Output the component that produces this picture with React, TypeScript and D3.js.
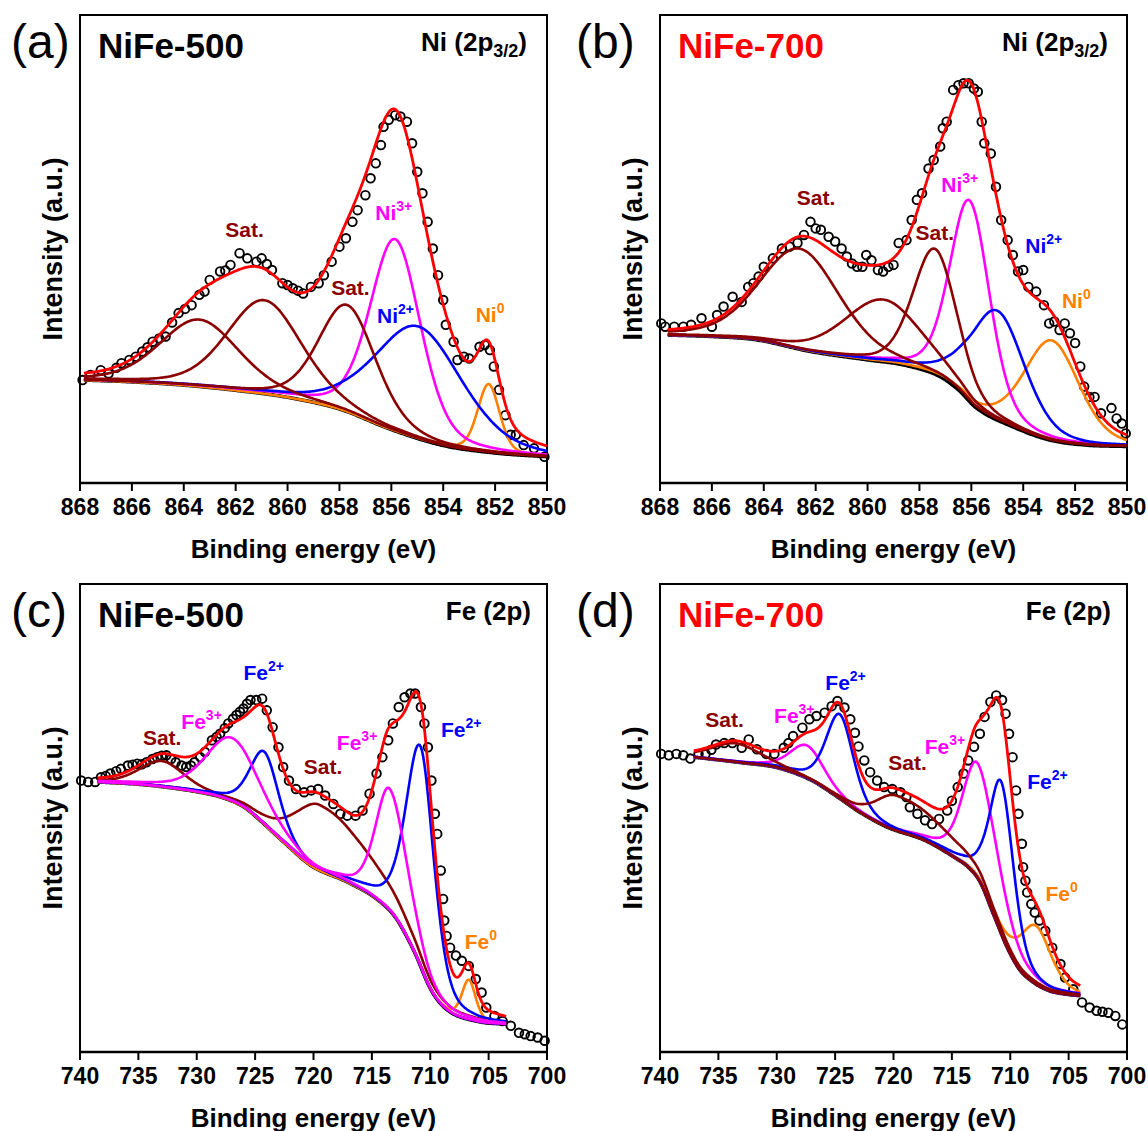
import React from "react";
import * as d3 from "d3";

type Pt = [number, number];
type Peak = { kind: string; c: number; h: number; w: number; wLow?: number };
type Lbl = { kind: string; base: string; sup: string; e: number; v: number };

// ---------- axis ticks ----------
const niTicks = [868, 866, 864, 862, 860, 858, 856, 854, 852, 850];
const feTicks = [740, 735, 730, 725, 720, 715, 710, 705, 700];

// ---------- (a) NiFe-500, Ni 2p3/2 ----------
const bgA: Pt[] = [[867.85, 22.0], [866, 21.6], [864, 20.9], [862, 19.8], [860, 18.3], [858, 15.8], [856, 11.4], [854, 8.0], [852, 6.4], [850, 5.6]];
const peaksA: Peak[] = [
  { kind: "ni0", c: 852.25, h: 14.6, w: 1.0 },
  { kind: "ni3", c: 855.85, h: 41, w: 2.3 },
  { kind: "ni2", c: 854.95, h: 24, w: 4.0 },
  { kind: "sat", c: 863.4, h: 14.3, w: 3.6 },
  { kind: "sat", c: 860.9, h: 20, w: 3.4 },
  { kind: "sat", c: 857.7, h: 22.8, w: 2.6 },
];
const dataA: Pt[] = [[867.9, 22.0], [867.6, 23.1], [867.2, 24.1], [866.9, 23.4], [866.6, 24.6], [866.4, 25.6], [866.1, 26.3], [865.85, 27.0], [865.6, 28.1], [865.4, 29.0], [865.2, 30.2], [864.95, 30.9], [864.7, 31.3], [864.45, 34.3], [864.2, 36.3], [863.95, 37.2], [863.7, 38.0], [863.4, 40.2], [863.2, 40.9], [863.0, 43.4], [862.6, 45.2], [862.4, 45.4], [862.2, 46.6], [861.85, 49.1], [861.55, 48.0], [861.2, 47.3], [861.0, 48.0], [860.8, 46.8], [860.6, 45.5], [860.2, 42.7], [860.0, 42.3], [859.8, 41.6], [859.6, 41.1], [859.4, 40.5], [859.1, 41.9], [858.8, 42.7], [858.6, 44.4], [858.3, 47.3], [858.0, 50.5], [857.75, 52.3], [857.5, 55.8], [857.3, 58.3], [857.0, 61.5], [856.8, 65.1], [856.6, 68.3], [856.4, 72.2], [856.3, 76.1], [856.1, 77.6], [855.85, 78.6], [855.65, 78.3], [855.4, 77.2], [855.2, 72.6], [855.0, 66.5], [854.8, 61.9], [854.6, 55.8], [854.4, 50.1], [854.2, 44.4], [854.0, 39.1], [853.9, 33.8], [853.6, 30.2], [853.45, 26.3], [853.2, 27.0], [853.0, 26.6], [852.6, 29.1], [852.4, 29.5], [852.2, 28.4], [852.05, 24.9], [851.85, 19.9], [851.6, 14.5], [851.4, 10.3], [851.2, 10.3], [850.9, 8.1], [850.5, 7.4], [850.1, 5.6]];
const labelsA: Lbl[] = [
  { kind: "sat", base: "Sat.", sup: "", e: 862.4, v: 52.6 },
  { kind: "sat", base: "Sat.", sup: "", e: 858.32, v: 40.2 },
  { kind: "ni3", base: "Ni", sup: "3+", e: 856.62, v: 56.2 },
  { kind: "ni2", base: "Ni", sup: "2+", e: 856.55, v: 34.1 },
  { kind: "ni0", base: "Ni", sup: "0", e: 852.75, v: 34.5 },
];

// ---------- (b) NiFe-700, Ni 2p3/2 ----------
const bgB: Pt[] = [[867.7, 31.6], [866, 31.3], [864.3, 30.6], [862.2, 28.1], [860, 26.3], [858.6, 25.2], [857.2, 22.7], [856.5, 19.9], [855.8, 16.0], [854.4, 12.0], [853, 9.2], [851.6, 8.1], [850, 7.8]];
const peaksB: Peak[] = [
  { kind: "ni0", c: 852.9, h: 21.4, w: 2.5 },
  { kind: "ni3", c: 856.05, h: 43, w: 1.8 },
  { kind: "ni2", c: 855.0, h: 23.4, w: 2.5 },
  { kind: "sat", c: 862.6, h: 21.5, w: 3.6 },
  { kind: "sat", c: 859.4, h: 13.3, w: 3.5 },
  { kind: "sat", c: 857.4, h: 26.8, w: 2.0 },
];
const dataB: Pt[] = [[867.95, 34.1], [867.8, 33.4], [867.45, 33.4], [867.1, 33.4], [866.8, 33.8], [866.4, 35.2], [866.0, 33.4], [865.8, 35.9], [865.55, 37.7], [865.2, 39.8], [864.85, 38.7], [864.6, 41.9], [864.4, 42.7], [864.2, 44.1], [864.0, 46.2], [863.65, 48.0], [863.3, 50.1], [863.0, 50.5], [862.7, 51.3], [862.45, 53.0], [862.2, 55.8], [862.0, 54.4], [861.8, 54.1], [861.5, 52.6], [861.25, 51.6], [861.0, 50.1], [860.8, 48.4], [860.6, 46.9], [860.4, 46.2], [860.2, 46.2], [860.05, 48.7], [859.85, 47.6], [859.6, 45.5], [859.4, 45.2], [859.2, 46.2], [859.0, 46.6], [858.8, 51.3], [858.5, 51.9], [858.3, 56.2], [858.1, 60.5], [857.9, 61.9], [857.65, 67.2], [857.45, 69.0], [857.2, 71.9], [857.1, 75.8], [856.95, 77.2], [856.7, 84.0], [856.5, 85.0], [856.3, 85.4], [856.1, 85.4], [855.9, 84.3], [855.75, 83.6], [855.6, 77.2], [855.5, 72.6], [855.25, 70.4], [855.05, 63.3], [854.85, 56.2], [854.6, 51.9], [854.4, 48.7], [854.2, 45.2], [854.0, 45.5], [853.8, 41.9], [853.5, 40.9], [853.2, 38.0], [853.0, 34.1], [852.8, 34.5], [852.6, 32.7], [852.4, 34.1], [852.2, 32.0], [852.0, 29.9], [851.8, 24.9], [851.65, 20.6], [851.45, 18.4], [851.25, 18.4], [851.0, 14.9], [850.6, 16.0], [850.4, 13.8], [850.2, 12.7], [850.05, 10.6]];
const labelsB: Lbl[] = [
  { kind: "sat", base: "Sat.", sup: "", e: 862.73, v: 59.4 },
  { kind: "sat", base: "Sat.", sup: "", e: 858.15, v: 51.9 },
  { kind: "ni3", base: "Ni", sup: "3+", e: 857.16, v: 62.2 },
  { kind: "ni2", base: "Ni", sup: "2+", e: 853.92, v: 49.1 },
  { kind: "ni0", base: "Ni", sup: "0", e: 852.51, v: 37.3 },
];

// ---------- (c) NiFe-500, Fe 2p ----------
const bgC: Pt[] = [[738.5, 57.7], [735, 57.2], [732.7, 56.6], [730, 55.6], [728, 54.5], [726, 52.4], [724.9, 50.2], [722.4, 44.5], [720.2, 39.8], [717.1, 36.3], [714.6, 32.7], [713.0, 28.8], [711.4, 21.6], [709.9, 13.1], [708.6, 9.1], [706.1, 6.6], [703.5, 5.9]];
const peaksC: Peak[] = [
  { kind: "sat", c: 733.0, h: 5.5, w: 4.5 },
  { kind: "sat", c: 719.5, h: 14, w: 5, wLow: 10 },
  { kind: "fe0", c: 706.7, h: 8.5, w: 1.4 },
  { kind: "fe2", c: 724.2, h: 15.5, w: 2.9 },
  { kind: "fe2", c: 710.8, h: 47, w: 3.0, wLow: 2.7 },
  { kind: "fe3", c: 727.0, h: 13.5, w: 5.2, wLow: 5.6 },
  { kind: "fe3", c: 713.5, h: 26, w: 2.8, wLow: 3.6 },
];
const dataC: Pt[] = [[739.9, 58.0], [739.3, 57.7], [738.7, 57.7], [738.2, 58.7], [737.8, 59.0], [737.4, 59.5], [736.9, 60.0], [736.5, 60.5], [735.9, 61.2], [735.5, 61.4], [735.1, 61.6], [734.7, 61.5], [734.3, 61.9], [733.8, 62.6], [733.4, 63.0], [733.0, 63.3], [732.6, 63.4], [732.2, 62.6], [731.8, 61.9], [731.3, 61.2], [730.9, 60.9], [730.5, 61.2], [730.2, 61.9], [729.7, 63.0], [729.3, 64.1], [728.7, 66.6], [728.3, 67.3], [728.0, 68.0], [727.6, 69.2], [727.3, 70.2], [726.9, 71.2], [726.6, 72.0], [726.3, 72.7], [726.0, 73.4], [725.7, 74.4], [725.4, 75.2], [724.9, 75.2], [724.4, 75.5], [724.0, 73.0], [723.5, 69.4], [723.0, 65.1], [722.6, 60.9], [722.1, 58.0], [721.5, 56.2], [720.8, 55.5], [720.2, 55.9], [719.6, 56.2], [719.0, 54.8], [718.3, 53.0], [717.7, 50.9], [717.1, 50.5], [716.4, 50.5], [715.8, 51.6], [715.2, 55.2], [714.6, 59.5], [714.1, 63.0], [713.6, 66.6], [713.2, 70.2], [712.7, 73.7], [712.2, 75.8], [711.7, 76.6], [711.3, 76.6], [710.8, 73.7], [710.5, 70.2], [710.2, 65.1], [709.9, 58.0], [709.6, 50.9], [709.4, 46.6], [709.1, 38.8], [708.9, 32.7], [708.8, 28.1], [708.6, 24.8], [708.3, 22.3], [707.8, 20.6], [707.3, 19.5], [706.7, 18.4], [706.1, 15.6], [705.6, 12.7], [705.2, 9.5], [704.5, 7.7], [703.8, 6.6], [703.1, 5.6], [702.4, 4.1], [701.9, 3.8], [701.4, 3.4], [700.8, 3.1], [700.2, 2.4]];
const labelsC: Lbl[] = [
  { kind: "sat", base: "Sat.", sup: "", e: 734.61, v: 65.5 },
  { kind: "fe3", base: "Fe", sup: "3+", e: 731.32, v: 69.1 },
  { kind: "fe2", base: "Fe", sup: "2+", e: 726.0, v: 79.4 },
  { kind: "sat", base: "Sat.", sup: "", e: 720.83, v: 59.5 },
  { kind: "fe3", base: "Fe", sup: "3+", e: 718.0, v: 64.5 },
  { kind: "fe2", base: "Fe", sup: "2+", e: 709.08, v: 67.3 },
  { kind: "fe0", base: "Fe", sup: "0", e: 707.05, v: 22.0 },
];

// ---------- (d) NiFe-700, Fe 2p ----------
const bgD: Pt[] = [[737.1, 63.0], [733, 61.8], [729.9, 60.7], [727, 58.0], [724.8, 54.5], [723, 51.4], [720.5, 48.0], [717.3, 45.2], [714.8, 41.6], [713.6, 39.5], [712.6, 36.4], [711.4, 29.2], [710.2, 22.0], [709.2, 17.6], [708.2, 15.2], [706.7, 13.1], [705.4, 12.4], [704.0, 12.0]];
const peaksD: Peak[] = [
  { kind: "fe0", c: 707.8, h: 12.5, w: 3.2 },
  { kind: "fe3", c: 727.4, h: 7, w: 3.4 },
  { kind: "fe3", c: 712.8, h: 24.5, w: 3.0, wLow: 4.2 },
  { kind: "fe2", c: 724.6, h: 18, w: 2.8 },
  { kind: "fe2", c: 710.75, h: 32.5, w: 2.4, wLow: 2.5 },
  { kind: "sat", c: 733.5, h: 4, w: 5 },
  { kind: "sat", c: 719.8, h: 7.5, w: 4, wLow: 10 },
];
const dataD: Pt[] = [[739.9, 63.7], [739.25, 63.4], [738.6, 63.7], [738.0, 63.4], [737.4, 62.7], [736.7, 63.7], [736.1, 63.7], [735.6, 64.6], [735.2, 65.7], [734.5, 66.0], [733.8, 66.0], [733.0, 65.0], [732.4, 66.8], [731.7, 64.7], [730.9, 63.7], [730.2, 63.7], [729.4, 65.0], [729.0, 66.0], [728.6, 67.5], [727.8, 69.3], [727.2, 71.1], [726.6, 71.8], [725.9, 72.5], [725.3, 73.9], [724.8, 75.0], [724.2, 73.6], [723.7, 71.1], [723.3, 68.2], [723.0, 65.3], [722.5, 62.3], [722.0, 59.8], [721.4, 58.0], [720.8, 56.6], [720.1, 56.2], [719.4, 55.5], [718.9, 54.5], [718.6, 52.3], [717.95, 50.9], [717.3, 49.5], [716.7, 48.7], [716.1, 49.8], [715.4, 51.6], [715.0, 53.7], [714.5, 56.6], [714.0, 59.5], [713.6, 62.3], [713.1, 65.2], [712.6, 68.0], [712.2, 71.6], [711.7, 74.8], [711.2, 76.2], [710.7, 75.2], [710.4, 72.3], [710.1, 68.0], [709.8, 63.0], [709.5, 55.9], [709.3, 50.9], [709.0, 44.5], [708.9, 39.5], [708.7, 36.6], [708.55, 34.1], [708.2, 31.6], [707.9, 29.8], [707.5, 28.1], [707.0, 25.9], [706.4, 22.3], [705.7, 18.8], [705.3, 15.9], [704.6, 13.4], [703.85, 10.6], [703.2, 9.5], [702.6, 8.8], [702.1, 8.6], [701.6, 8.4], [701.0, 7.7], [700.4, 5.9]];
const labelsD: Lbl[] = [
  { kind: "sat", base: "Sat.", sup: "", e: 736.12, v: 69.4 },
  { kind: "fe3", base: "Fe", sup: "3+", e: 730.23, v: 70.2 },
  { kind: "fe2", base: "Fe", sup: "2+", e: 725.84, v: 77.3 },
  { kind: "sat", base: "Sat.", sup: "", e: 720.45, v: 60.2 },
  { kind: "fe3", base: "Fe", sup: "3+", e: 717.32, v: 63.7 },
  { kind: "fe2", base: "Fe", sup: "2+", e: 708.55, v: 56.3 },
  { kind: "fe0", base: "Fe", sup: "0", e: 706.99, v: 32.3 },
];

// ---------- styling ----------
const COLORS: Record<string, string> = {
  sat: "#8B0000",
  ni3: "#FF00FF",
  fe3: "#FF00FF",
  ni2: "#0000FF",
  fe2: "#0000FF",
  ni0: "#FF8000",
  fe0: "#FF8000",
};
const FONT = "'Liberation Sans', Arial, Helvetica, sans-serif";
const PW = 467;
const PH = 468;

function makeInterp(pts: Pt[]) {
  const s = [...pts].sort((a, b) => a[0] - b[0]);
  const n = s.length;
  const xs = s.map((p) => p[0]);
  const ys = s.map((p) => p[1]);
  const d: number[] = [];
  for (let i = 0; i < n - 1; i++) d[i] = (ys[i + 1] - ys[i]) / (xs[i + 1] - xs[i]);
  const m: number[] = new Array(n);
  m[0] = d[0];
  m[n - 1] = d[n - 2];
  for (let i = 1; i < n - 1; i++) m[i] = d[i - 1] * d[i] <= 0 ? 0 : (d[i - 1] + d[i]) / 2;
  for (let i = 0; i < n - 1; i++) {
    if (d[i] === 0) {
      m[i] = 0;
      m[i + 1] = 0;
    } else {
      const a = m[i] / d[i];
      const b = m[i + 1] / d[i];
      const s2 = a * a + b * b;
      if (s2 > 9) {
        const t = 3 / Math.sqrt(s2);
        m[i] = t * a * d[i];
        m[i + 1] = t * b * d[i];
      }
    }
  }
  return (x: number) => {
    let i = 0;
    if (x <= xs[0]) i = 0;
    else if (x >= xs[n - 1]) i = n - 2;
    else while (i < n - 2 && x > xs[i + 1]) i++;
    const h = xs[i + 1] - xs[i];
    const t = Math.max(0, Math.min(1, (x - xs[i]) / h));
    const t2 = t * t;
    const t3 = t2 * t;
    return (2 * t3 - 3 * t2 + 1) * ys[i] + (t3 - 2 * t2 + t) * h * m[i] + (-2 * t3 + 3 * t2) * ys[i + 1] + (t3 - t2) * h * m[i + 1];
  };
}

function pv(x: number, p: Peak, eta: number) {
  const w = x < p.c && p.wLow ? p.wLow : p.w;
  const t = (x - p.c) / w;
  const g = Math.exp(-4 * Math.LN2 * t * t);
  const l = 1 / (1 + 4 * t * t);
  return p.h * ((1 - eta) * g + eta * l);
}

type PanelCfg = {
  left: number;
  top: number;
  tagX: number;
  tag: string;
  sample: string;
  sampleColor: string;
  region: string;
  regionSub: string;
  regionRight: number;
  domain: [number, number];
  ticks: number[];
  bg: Pt[];
  peaks: Peak[];
  data: Pt[];
  labels: Lbl[];
  eta: number;
  step: number;
};

function Panel({ cfg }: { cfg: PanelCfg }) {
  const { left, top, domain, ticks, bg, peaks, data, labels, eta, step } = cfg;
  const x = d3.scaleLinear().domain(domain).range([left, left + PW]);
  const y = d3.scaleLinear().domain([0, 100]).range([top + PH, top]);
  const bgf = makeInterp(bg);
  const lo = d3.min(bg, (d) => d[0]) as number;
  const hi = d3.max(bg, (d) => d[0]) as number;
  const xs: number[] = [];
  for (let v = lo; v <= hi + 1e-9; v += step) xs.push(v);
  if (xs[xs.length - 1] < hi) xs.push(hi);
  const line = d3
    .line<Pt>()
    .x((d) => x(d[0]))
    .y((d) => y(d[1]));
  const bgPts: Pt[] = xs.map((v) => [v, bgf(v)]);
  const compPaths = peaks.map((p) => ({
    kind: p.kind,
    d: line(xs.map((v) => [v, bgf(v) + pv(v, p, eta)] as Pt)) || "",
  }));
  const env = line(xs.map((v) => [v, bgf(v) + d3.sum(peaks, (p) => pv(v, p, eta))] as Pt)) || "";
  const bottom = top + PH;
  return (
    <g>
      <rect x={left} y={top} width={PW} height={PH} fill="none" stroke="#000" strokeWidth={2} />
      {ticks.map((t) => (
        <g key={t}>
          <line x1={x(t)} x2={x(t)} y1={bottom} y2={bottom + 8} stroke="#000" strokeWidth={2} />
          <text x={x(t)} y={bottom + 32} textAnchor="middle" fontFamily={FONT} fontWeight="bold" fontSize={23}>
            {t}
          </text>
        </g>
      ))}
      <line x1={left} x2={left + PW} y1={bottom} y2={bottom} stroke="#000" strokeWidth={2.5} />
      <text x={left + PW / 2} y={bottom + 75} textAnchor="middle" fontFamily={FONT} fontWeight="bold" fontSize={26}>
        Binding energy (eV)
      </text>
      <text
        transform={`translate(${left - 18},${top + PH / 2}) rotate(-90)`}
        textAnchor="middle"
        fontFamily={FONT}
        fontWeight="bold"
        fontSize={27}
      >
        Intensity (a.u.)
      </text>
      <text x={cfg.tagX} y={top + 43} fontFamily={FONT} fontSize={48}>
        {cfg.tag}
      </text>
      <text x={left + 18} y={top + 43} fontFamily={FONT} fontWeight="bold" fontSize={35} fill={cfg.sampleColor}>
        {cfg.sample}
      </text>
      <text x={left + PW - cfg.regionRight} y={top + 36} textAnchor="end" fontFamily={FONT} fontWeight="bold" fontSize={26}>
        {cfg.region}
        {cfg.regionSub ? (
          <>
            <tspan dy={6} fontSize={18}>
              {cfg.regionSub}
            </tspan>
            <tspan dy={-6} fontSize={26}>
              )
            </tspan>
          </>
        ) : null}
      </text>
      {data.map((d, i) => (
        <circle key={i} cx={x(d[0])} cy={y(d[1])} r={4.3} fill="none" stroke="#000" strokeWidth={1.9} />
      ))}
      <path d={line(bgPts) || ""} fill="none" stroke="#000" strokeWidth={3.5} />
      {compPaths.map((c, i) => (
        <path key={i} d={c.d} fill="none" stroke={COLORS[c.kind]} strokeWidth={2.6} strokeLinejoin="round" />
      ))}
      <path d={env} fill="none" stroke="#FF0000" strokeWidth={2.8} strokeLinejoin="round" />
      {labels.map((l, i) => (
        <text key={i} x={x(l.e)} y={y(l.v)} fontFamily={FONT} fontWeight="bold" fontSize={21} fill={COLORS[l.kind]}>
          {l.base}
          {l.sup ? (
            <tspan dy={-9} fontSize={14}>
              {l.sup}
            </tspan>
          ) : null}
        </text>
      ))}
    </g>
  );
}

const panels: PanelCfg[] = [
  { left: 80, top: 15, tagX: 11, tag: "(a)", sample: "NiFe-500", sampleColor: "#000", region: "Ni (2p", regionSub: "3/2", regionRight: 20, domain: [868, 850], ticks: niTicks, bg: bgA, peaks: peaksA, data: dataA, labels: labelsA, eta: 0.3, step: 0.05 },
  { left: 660, top: 15, tagX: 576, tag: "(b)", sample: "NiFe-700", sampleColor: "#FF0000", region: "Ni (2p", regionSub: "3/2", regionRight: 19, domain: [868, 850], ticks: niTicks, bg: bgB, peaks: peaksB, data: dataB, labels: labelsB, eta: 0.3, step: 0.05 },
  { left: 80, top: 584, tagX: 11, tag: "(c)", sample: "NiFe-500", sampleColor: "#000", region: "Fe (2p)", regionSub: "", regionRight: 16, domain: [740, 700], ticks: feTicks, bg: bgC, peaks: peaksC, data: dataC, labels: labelsC, eta: 0.4, step: 0.1 },
  { left: 660, top: 584, tagX: 576, tag: "(d)", sample: "NiFe-700", sampleColor: "#FF0000", region: "Fe (2p)", regionSub: "", regionRight: 16, domain: [740, 700], ticks: feTicks, bg: bgD, peaks: peaksD, data: dataD, labels: labelsD, eta: 0.4, step: 0.1 },
];

export default function App() {
  return (
    <svg
      width={1148}
      height={1131}
      viewBox="0 0 1148 1131"
      style={{ position: "absolute", left: 0, top: 0, display: "block", background: "#fff" }}
    >
      <rect x={0} y={0} width={1148} height={1131} fill="#fff" />
      {panels.map((p, i) => (
        <Panel key={i} cfg={p} />
      ))}
    </svg>
  );
}
